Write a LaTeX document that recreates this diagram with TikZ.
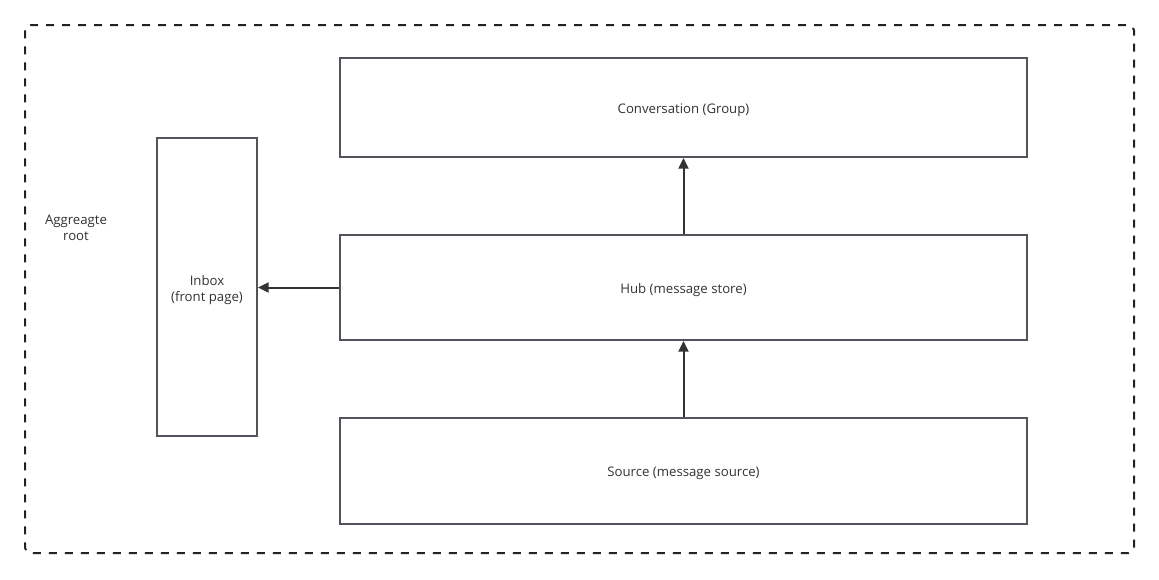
\documentclass[tikz,border=0pt]{standalone}
\usepackage{fontspec}
\setmainfont{Open Sans}
\usetikzlibrary{arrows.meta}
\definecolor{dashc}{HTML}{1F2329}
\definecolor{boxc}{HTML}{50555C}
\definecolor{txtc}{HTML}{333333}
\definecolor{arrc}{HTML}{333333}
\tikzset{
  px/.style={x=0.75pt,y=-0.75pt},
  lbl/.style={text=txtc, align=center, font=\fontsize{9.9pt}{12pt}\selectfont, yshift=-2pt},
  blk/.style={draw=boxc, line width=1.5pt, fill=white, inner sep=0pt},
  conn/.style={draw=arrc, line width=1.5pt, -{Triangle[length=8pt,width=7.5pt]}},
  outer/.style={draw=dashc, line width=1.5pt, dash pattern=on 6pt off 6pt, rounded corners=4pt}
}
\begin{document}
\begin{tikzpicture}[px]
\useasboundingbox (0,0) rectangle (1159,579);
\draw[outer] (25,25) rectangle (1134,553);
\node[lbl, yshift=1pt] (agg) at (76,226) {Aggreagte\\root};
\node[blk, minimum width=687*0.75pt, minimum height=99*0.75pt, label={[lbl]center:Conversation (Group)}] (conv) at (683.5,107.5) {};
\node[blk, minimum width=687*0.75pt, minimum height=105*0.75pt, label={[lbl]center:Hub (message store)}] (hub) at (683.5,287.5) {};
\node[blk, minimum width=687*0.75pt, minimum height=106*0.75pt, label={[lbl]center:Source (message source)}] (src) at (683.5,471) {};
\node[blk, minimum width=100*0.75pt, minimum height=298*0.75pt, label={[lbl]center:{Inbox\\(front page)}}] (inbox) at (207,287) {};
\draw[conn] (hub.north) -- (conv.south);
\draw[conn] (src.north) -- (hub.south);
\draw[conn] (hub.west) -- (hub.west -| inbox.east);
\end{tikzpicture}
\end{document}
